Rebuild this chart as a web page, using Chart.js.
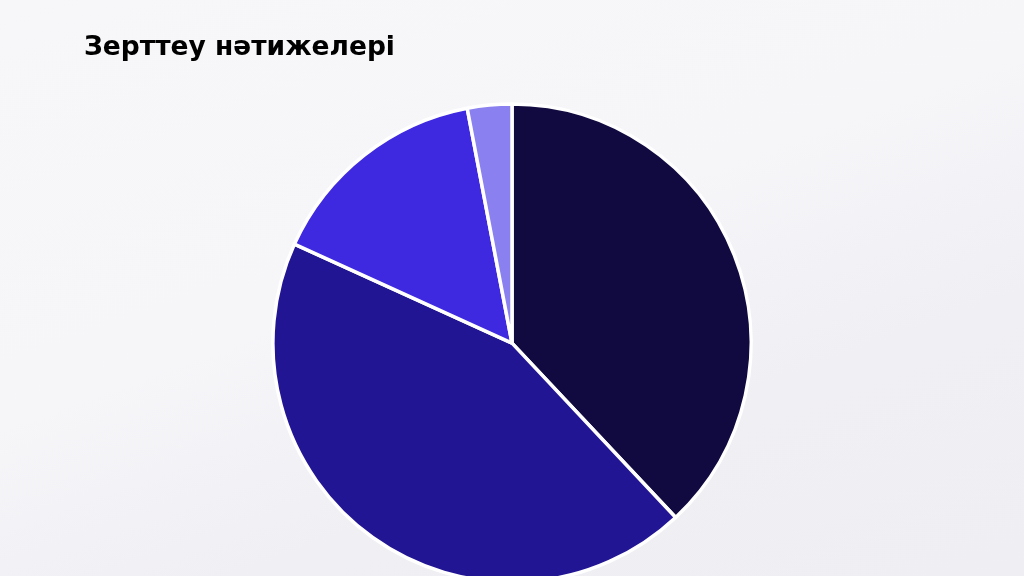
<!DOCTYPE html>
<html>
<head>
<meta charset="utf-8">
<script src="https://cdn.jsdelivr.net/npm/chart.js@4"></script>
<style>
  html, body {
    margin: 0;
    padding: 0;
    width: 1024px;
    height: 576px;
    overflow: hidden;
    background: linear-gradient(160deg, #f7f7fa 0%, #f6f6f9 45%, #efeff4 70%, #eeeef3 100%);
  }
  #wrap {
    position: absolute;
    left: 0;
    top: 0;
    width: 1024px;
    height: 584px;
  }
</style>
</head>
<body>
<div id="wrap"><canvas id="pieChart"></canvas></div>
<script>
const labels = ["Санат 1", "Санат 2", "Санат 3", "Санат 4"];
const values = [38.0, 43.8, 15.2, 3.0];
const colors = ["#110a40", "#221594", "#3e29e0", "#8a80f0"];

const ctx = document.getElementById("pieChart");

new Chart(ctx, {
  type: "pie",
  data: {
    labels: labels,
    datasets: [
      {
        data: values,
        backgroundColor: colors,
        borderColor: "#ffffff",
        borderWidth: 3.5,
      },
    ],
  },
  options: {
    responsive: true,
    maintainAspectRatio: false,
    animation: false,
    layout: {
      padding: { left: 84, right: 84, top: 0, bottom: 0 },
    },
    plugins: {
      legend: { display: false },
      tooltip: { enabled: false },
      title: {
        display: true,
        text: "Зерттеу нәтижелері",
        align: "start",
        color: "#000000",
        font: { family: "DejaVu Sans", size: 26.5, weight: "bold" },
        padding: { top: 32, bottom: 38.5 },
      },
    },
  },
});
</script>
</body>
</html>
